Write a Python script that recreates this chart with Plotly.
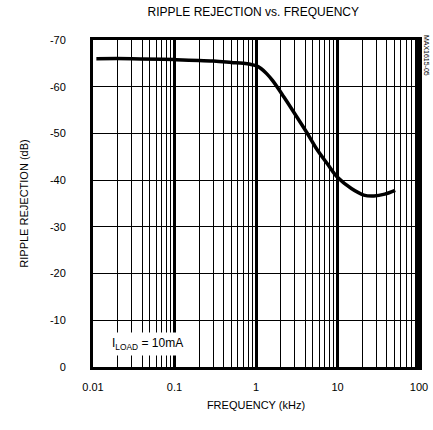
import plotly.graph_objects as go

freq_khz = [0.011, 0.03, 0.1, 0.3, 0.5, 0.7, 0.85, 1.0, 1.15, 1.35, 1.6, 2.2, 3.1, 4.2, 5.4, 7.5, 10, 14.8, 21, 28, 38, 51]
rejection_db = [-66.0, -66.0, -65.8, -65.5, -65.2, -65.0, -64.8, -64.5, -63.9, -62.8, -61.3, -57.8, -53.8, -50.2, -47.0, -43.5, -40.6, -38.2, -36.8, -36.6, -37.0, -37.8]

y_ticks = [0, -10, -20, -30, -40, -50, -60, -70]
y_labels = ["0", "-10", "-20", "-30", "-40", "-50", "-60", "-70"]
x_ticks = [0.01, 0.1, 1, 10, 100]
x_labels = ["0.01", "0.1", "1", "10", "100"]

FONT = "Liberation Sans, Arial, sans-serif"

fig = go.Figure()
fig.add_trace(go.Scatter(x=freq_khz, y=rejection_db, mode="lines",
                         line=dict(color="black", width=3.5, shape="spline", smoothing=1.0),
                         showlegend=False, hoverinfo="skip"))

fig.update_layout(
    width=433, height=430,
    margin=dict(l=93, r=14, t=40, b=63, autoexpand=False),
    paper_bgcolor="white", plot_bgcolor="white",
    font=dict(family=FONT, size=11, color="black"),
    title=dict(text="RIPPLE REJECTION vs. FREQUENCY", x=0.585, xanchor="center",
               y=0.972, yanchor="middle", font=dict(size=12, family=FONT)),
)

fig.update_xaxes(
    type="log", range=[-2, 2], automargin=False,
    tickvals=x_ticks, ticktext=x_labels, ticks="", ticklen=0,
    ticklabelstandoff=8,
    showgrid=True, gridcolor="black", gridwidth=3,
    minor=dict(showgrid=True, gridcolor="black", gridwidth=1, ticks="", dtick="D1"),
    showline=True, linecolor="black", linewidth=3, mirror=True,
    title=dict(text="FREQUENCY (kHz)", font=dict(size=11), standoff=10),
    tickfont=dict(size=11),
)
fig.update_yaxes(
    range=[0, -70], automargin=False,
    tickvals=y_ticks, ticktext=y_labels, ticks="",
    ticklabelstandoff=22,
    showgrid=True, gridcolor="black", gridwidth=1,
    zeroline=False,
    showline=True, linecolor="black", linewidth=3, mirror=True,
    title=dict(text="RIPPLE REJECTION (dB)", font=dict(size=11), standoff=20),
    tickfont=dict(size=11),
)

# heavier right-hand frame edge, as in the reference
fig.add_shape(type="line", xref="x domain", yref="y domain", x0=1, x1=1, y0=0, y1=1,
              line=dict(color="black", width=6))

fig.add_annotation(xref="x domain", yref="y domain", x=0.045, y=0.035,
                   xanchor="left", yanchor="bottom",
                   text="I<sub>LOAD</sub> = 10mA", showarrow=False,
                   bgcolor="white", borderpad=3, font=dict(size=12))
fig.add_annotation(xref="paper", yref="paper", x=1.025, y=0.954,
                   xanchor="center", yanchor="middle", textangle=90,
                   text="MAX1615-05", showarrow=False, font=dict(size=7))

fig.write_html("out.html", config={"displayModeBar": False},
               post_script="document.body.style.margin='0';")
